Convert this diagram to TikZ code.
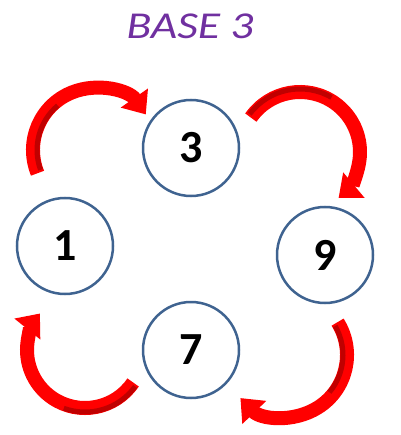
\documentclass[tikz,border=0pt]{standalone}
\usepackage{fontspec}
\setmainfont{Carlito}
\usetikzlibrary{arrows.meta}
\definecolor{ringblue}{HTML}{3F6390}
\definecolor{titlepurple}{HTML}{7030A0}
\definecolor{arrowred}{HTML}{FF0000}
\definecolor{darkred}{HTML}{C00000}
\begin{document}
\begin{tikzpicture}[x=1pt,y=1pt,
  ring/.style={circle,draw=ringblue,line width=2.5pt,minimum size=96pt,inner sep=0pt,
    font=\fontsize{46}{46}\selectfont\bfseries},
  curvearrow/.style={draw=arrowred,line width=14pt,
    -{Triangle[width=32pt,length=20pt,fill=arrowred]}},
  shadeband/.style={draw=darkred,line width=5pt}]
\useasboundingbox (0,0) rectangle (400,-435);
\node[font=\fontsize{38}{38}\selectfont\itshape,text=titlepurple,xscale=1.2] (title) at (190,-26) {BASE 3};
\node[ring] (n3) at (191,-148) {3};
\node[ring] (n1) at (65,-246) {1};
\node[ring] (n9) at (325,-255) {9};
\node[ring] (n7) at (191,-350) {7};
% arc centres
\coordinate (c1) at (95,-150);
\coordinate (c2) at (300,-152);
\coordinate (c3) at (285,-355);
\coordinate (c4) at (85,-350);
% top-left arrow 1 -> 3
\draw[curvearrow] (c1) ++(202:62) arc[start angle=202,end angle=35,radius=62];
\draw[shadeband] (c1) ++(200:58) arc[start angle=200,end angle=130,radius=58];
% top-right arrow 3 -> 9
\draw[curvearrow] (c2) ++(145:60) arc[start angle=145,end angle=-50,radius=60];
\draw[shadeband] (c2) ++(143:63) arc[start angle=143,end angle=60,radius=63];
% bottom-right arrow 9 -> 7
\draw[curvearrow] (c3) ++(32:62) arc[start angle=32,end angle=-136,radius=62];
\draw[shadeband] (c3) ++(30:58) arc[start angle=30,end angle=-40,radius=58];
% bottom-left arrow 7 -> 1
\draw[curvearrow] (c4) ++(-34:58) arc[start angle=-34,end angle=-219,radius=58];
\draw[shadeband] (c4) ++(-36:62) arc[start angle=-36,end angle=-110,radius=62];
\end{tikzpicture}
\end{document}
